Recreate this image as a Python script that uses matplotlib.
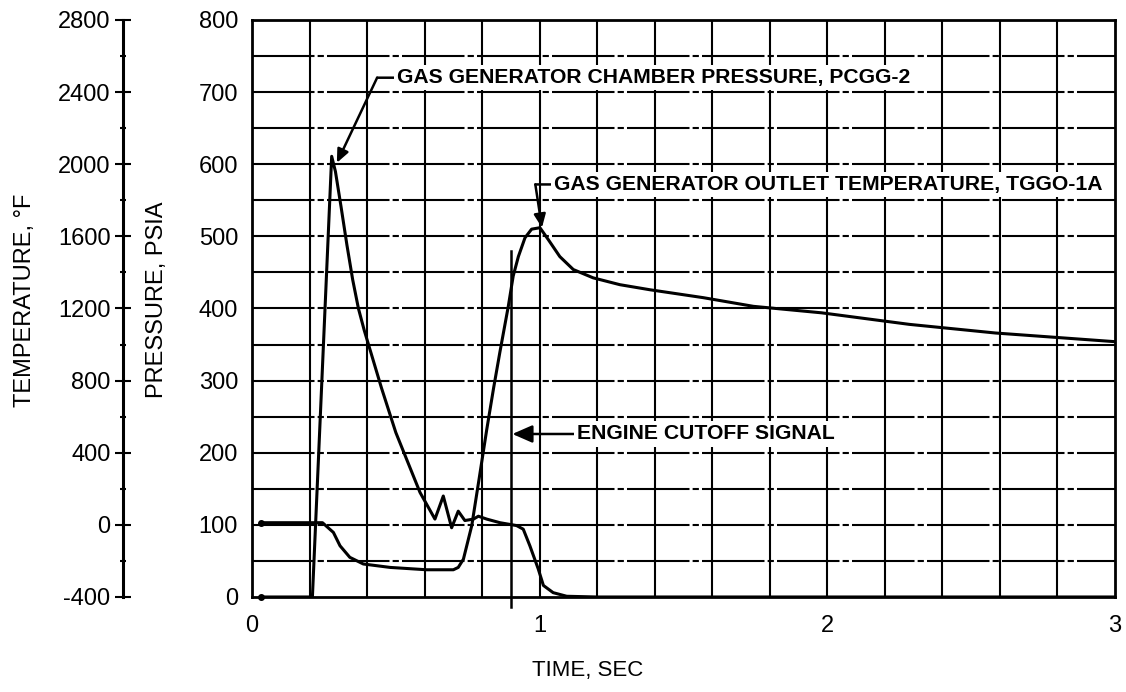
import numpy as np
import matplotlib.pyplot as plt

# chamber pressure PCGG-2 (psia) vs time (sec)
time_pc = [0.03, 0.21, 0.277, 0.29, 0.31, 0.33, 0.35, 0.37, 0.39, 0.42, 0.45, 0.50, 0.584,
           0.636, 0.665, 0.694, 0.717, 0.74, 0.77, 0.787, 0.816, 0.862, 0.92, 0.943, 0.966,
           0.995, 1.013, 1.047, 1.094, 1.2, 3.0]
pcgg = [0, 0, 611, 590, 540, 488, 440, 400, 370, 330, 290, 228, 145,
        108, 140, 96, 119, 106, 108, 112, 108, 103, 99, 94, 71,
        39, 16, 6, 1, 0, 0]

# gas generator outlet temperature TGGO-1A (deg F) vs time (sec)
time_tg = [0.03, 0.245, 0.283, 0.306, 0.34, 0.387, 0.48, 0.607, 0.70, 0.717, 0.735,
           0.764, 0.79, 0.816, 0.84, 0.862, 0.891, 0.908, 0.926, 0.949, 0.972, 1.001,
           1.03, 1.07, 1.117, 1.186, 1.279, 1.383, 1.569, 1.743, 1.98, 2.285, 2.585, 3.0]
tggo = [12, 12, -42, -116, -180, -217, -236, -249, -249, -236, -190,
        -4, 260, 528, 760, 960, 1212, 1380, 1488, 1592, 1640, 1648,
        1582, 1488, 1416, 1370, 1332, 1304, 1260, 1212, 1176, 1112, 1064, 1016]

# engine cutoff signal trace
cutoff_time = [0.9, 0.9]
cutoff_level = [-14, 480]

x_ticks = [0, 1, 2, 3]
p_ticks = list(range(0, 801, 100))
t_ticks = list(range(-400, 2801, 400))
t_minor = list(range(-200, 2800, 400))

plt.rcParams['font.family'] = ['Liberation Sans', 'DejaVu Sans']
plt.rcParams['axes.unicode_minus'] = False

fig = plt.figure(figsize=(11.26, 6.92), dpi=100)
ax = fig.add_axes([0.2238, 0.1373, 0.7664, 0.8338])
ax.set_xlim(0, 3)
ax.set_ylim(0, 800)

# grid
for x in np.arange(0.2, 2.9, 0.2):
    ax.axvline(x, color='k', lw=1.5, zorder=1)
for y in np.arange(50, 800, 50):
    ax.axhline(y, color='k', lw=1.5, ls=(0, (30, 1.5, 3, 1.5)), zorder=1)

for s in ax.spines.values():
    s.set_linewidth(2)

ax.plot(time_pc, pcgg, color='k', lw=2.2, zorder=3)
ax.plot(time_pc[0], pcgg[0], 'o', color='k', ms=4, zorder=3, clip_on=False)
ax.plot(cutoff_time, cutoff_level, color='k', lw=1.8, zorder=3, clip_on=False)

ax.set_xticks(x_ticks)
ax.set_yticks(p_ticks)
ax.tick_params(axis='x', length=0, labelsize=17, pad=13)
ax.tick_params(axis='y', length=0, labelsize=17, pad=10)
ax.set_xlabel('TIME, SEC', fontsize=16)
ax.xaxis.set_label_coords(0.389, -0.109)
ax.set_ylabel('PRESSURE, PSIA', fontsize=17)
ax.yaxis.set_label_coords(-0.097, 0.515)

# temperature axis
ax_t = ax.twinx()
ax_t.set_ylim(-400, 2800)
ax_t.plot(time_tg, tggo, color='k', lw=2.2, zorder=3)
ax_t.plot(time_tg[0], tggo[0], 'o', color='k', ms=4, zorder=3)
ax_t.yaxis.tick_left()
ax_t.yaxis.set_label_position('left')
ax_t.spines['left'].set_position(('axes', -0.1495))
ax_t.spines['left'].set_visible(True)
ax_t.spines['left'].set_linewidth(2.2)
for s in ['right', 'top', 'bottom']:
    ax_t.spines[s].set_visible(False)
ax_t.set_yticks(t_ticks)
ax_t.set_yticks(t_minor, minor=True)
ax_t.tick_params(which='major', direction='inout', length=12, width=1.5, labelsize=17, pad=3)
ax_t.tick_params(which='minor', direction='inout', length=5, width=1.5)
ax_t.set_ylabel('TEMPERATURE, °F', fontsize=17)
ax_t.yaxis.set_label_coords(-0.25, 0.515)

# callouts
box = dict(boxstyle='square,pad=0.15', fc='white', ec='none')
head = dict(arrowstyle='-|>,head_length=0.8,head_width=0.35', color='k', lw=1.8,
            shrinkA=0, shrinkB=0)
line = dict(arrowstyle='-', color='k', lw=1.8, shrinkA=0, shrinkB=0)
txt = dict(xycoords=ax.transData, textcoords=ax.transData, va='center', ha='left',
           weight='bold', fontsize=15.2, bbox=box, zorder=5)

ax_t.annotate('', xy=(0.295, 602), xytext=(0.435, 720), xycoords=ax.transData,
              textcoords=ax.transData, arrowprops=head, zorder=5)
ax_t.annotate('GAS GENERATOR CHAMBER PRESSURE, PCGG-2', xy=(0.435, 720), xytext=(0.505, 720),
              arrowprops=line, **txt)

ax_t.annotate('', xy=(1.008, 512), xytext=(0.985, 572), xycoords=ax.transData,
              textcoords=ax.transData, arrowprops=head, zorder=5)
ax_t.annotate('GAS GENERATOR OUTLET TEMPERATURE, TGGO-1A', xy=(0.985, 572), xytext=(1.05, 572),
              arrowprops=line, **txt)

ax_t.annotate('ENGINE CUTOFF SIGNAL', xy=(0.905, 226), xytext=(1.13, 226),
              arrowprops=head, **txt)

fig.savefig('out.png', dpi=100)
